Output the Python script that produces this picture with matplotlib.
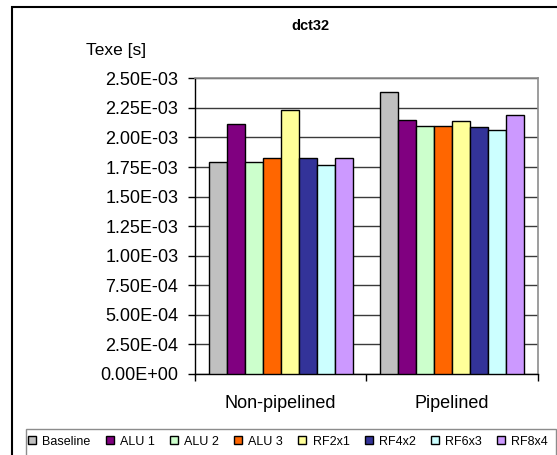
import numpy as np
import matplotlib
matplotlib.use("Agg")
import matplotlib.pyplot as plt
import matplotlib.ticker as ticker
from matplotlib.patches import Rectangle

plt.rcParams['font.family'] = ['Liberation Sans', 'DejaVu Sans']

categories = ['Non-pipelined', 'Pipelined']
series = ['Baseline', 'ALU 1', 'ALU 2', 'ALU 3', 'RF2x1', 'RF4x2', 'RF6x3', 'RF8x4']
values = [
    [1.790e-3, 2.382e-3],  # Baseline
    [2.111e-3, 2.147e-3],  # ALU 1
    [1.790e-3, 2.099e-3],  # ALU 2
    [1.824e-3, 2.099e-3],  # ALU 3
    [2.229e-3, 2.136e-3],  # RF2x1
    [1.824e-3, 2.088e-3],  # RF4x2
    [1.767e-3, 2.063e-3],  # RF6x3
    [1.824e-3, 2.190e-3],  # RF8x4
]
colors = ['#C0C0C0', '#800080', '#CCFFCC', '#FF6600',
          '#FFFF99', '#333399', '#CCFFFF', '#CC99FF']

W, H = 557, 455
fig = plt.figure(figsize=(W / 100, H / 100), dpi=100)
ax = fig.add_axes([195 / W, 1 - 374 / H, (537.5 - 195) / W, (374 - 78.3) / H])

n = len(series)
bw = 1.0 / 9.5
x = np.arange(len(categories))
for i, (name, vals, c) in enumerate(zip(series, values, colors)):
    pos = x - 0.5 + 0.75 * bw + (i + 0.5) * bw
    ax.bar(pos, vals, width=bw, color=c, edgecolor='black', linewidth=1.0,
           label=name, zorder=3)

ax.set_xlim(-0.5, 1.5)
ax.set_ylim(0, 2.5e-3)
ax.set_yticks(np.arange(0, 2.5e-3 + 1e-9, 0.25e-3))
ax.yaxis.set_major_formatter(ticker.FuncFormatter(lambda v, p: f"{v:.2E}"))
ax.yaxis.grid(True, color='#3a3a3a', linewidth=1.0, zorder=0)
ax.set_xticks(x)
ax.set_xticklabels(categories)
ax.set_xticks([-0.5, 0.5, 1.5], minor=True)
ax.tick_params(axis='x', which='major', length=0, pad=15, labelsize=13)
ax.tick_params(axis='x', which='minor', length=5, width=1, direction='out')
ax.tick_params(axis='y', length=5, width=1, direction='out', pad=7, labelsize=13)

for s in ['top', 'right']:
    ax.spines[s].set_color('#8c8c8c')
    ax.spines[s].set_linewidth(1.2)
for s in ['left', 'bottom']:
    ax.spines[s].set_color('black')
    ax.spines[s].set_linewidth(1.0)

fig.text(310 / W, 1 - 26 / H, 'dct32', ha='center', va='center',
         fontsize=10.5, fontweight='bold')
fig.text(86 / W, 1 - 50.5 / H, 'Texe [s]', ha='left', va='center', fontsize=12.5)

# chart area border and legend box
fig.patches.append(Rectangle((12 / W, -0.1), 1.2, 1 - 7 / H + 0.1,
                             transform=fig.transFigure, fill=False,
                             edgecolor='black', linewidth=1.5))
fig.patches.append(Rectangle((26 / W, -0.1), (556 - 26) / W, 1 - 428.5 / H + 0.1,
                             transform=fig.transFigure, fill=False,
                             edgecolor='#8c8c8c', linewidth=1.0))

handles, labels = ax.get_legend_handles_labels()
fig.legend(handles, labels, loc='center left', bbox_to_anchor=(28 / W, 1 - 441.7 / H),
           ncol=n, frameon=False, fontsize=9, handlelength=0.65, handleheight=0.65,
           handletextpad=0.5, columnspacing=1.2, borderpad=0, borderaxespad=0)

fig.savefig('out.png', dpi=100)
